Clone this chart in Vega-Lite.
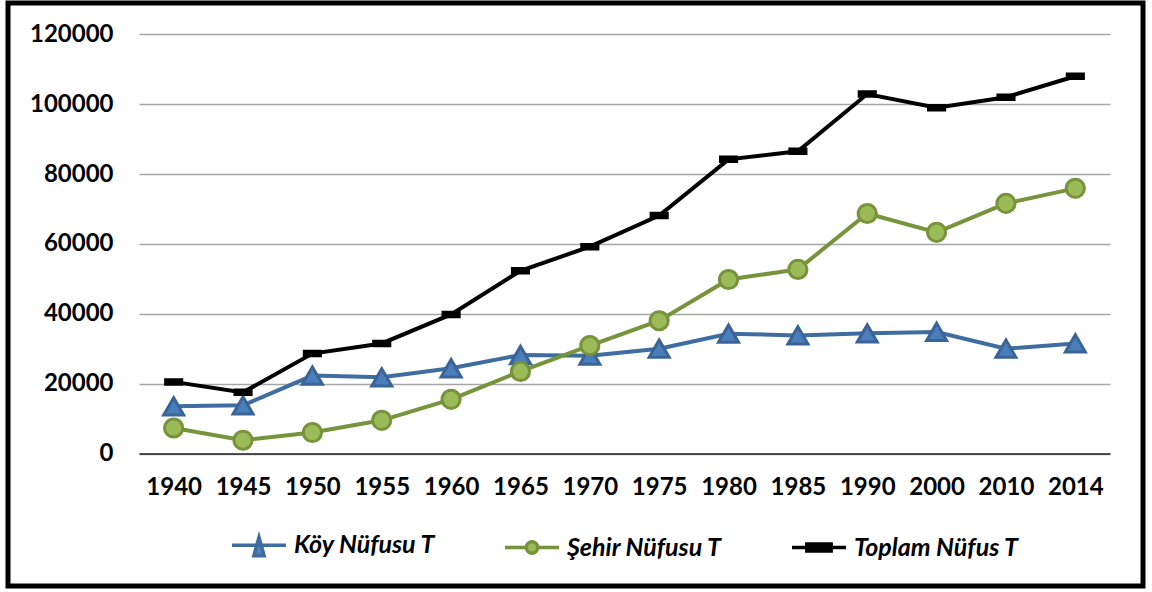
{
  "$schema": "https://vega.github.io/schema/vega-lite/v6.json",
  "autosize": {"type": "none"},
  "width": 1135,
  "height": 583,
  "padding": {"left": 8, "top": 3, "right": 9, "bottom": 6},
  "background": "white",
  "config": {
    "view": {"stroke": "#000000", "strokeWidth": 5},
    "axis": {"labelFont": "Lato", "labelFontSize": 24, "labelFontWeight": "bold", "labelColor": "#000000", "ticks": false, "title": null}
  },
  "data": {"values": [
    {"year": "1940", "series": "Köy Nüfusu T", "value": 13500},
    {"year": "1945", "series": "Köy Nüfusu T", "value": 13800},
    {"year": "1950", "series": "Köy Nüfusu T", "value": 22300},
    {"year": "1955", "series": "Köy Nüfusu T", "value": 21800},
    {"year": "1960", "series": "Köy Nüfusu T", "value": 24400},
    {"year": "1965", "series": "Köy Nüfusu T", "value": 28200},
    {"year": "1970", "series": "Köy Nüfusu T", "value": 28000},
    {"year": "1975", "series": "Köy Nüfusu T", "value": 30000},
    {"year": "1980", "series": "Köy Nüfusu T", "value": 34300},
    {"year": "1985", "series": "Köy Nüfusu T", "value": 33800},
    {"year": "1990", "series": "Köy Nüfusu T", "value": 34400},
    {"year": "2000", "series": "Köy Nüfusu T", "value": 34800},
    {"year": "2010", "series": "Köy Nüfusu T", "value": 30000},
    {"year": "2014", "series": "Köy Nüfusu T", "value": 31500},
    {"year": "1940", "series": "Şehir Nüfusu T", "value": 7300},
    {"year": "1945", "series": "Şehir Nüfusu T", "value": 3800},
    {"year": "1950", "series": "Şehir Nüfusu T", "value": 6000},
    {"year": "1955", "series": "Şehir Nüfusu T", "value": 9500},
    {"year": "1960", "series": "Şehir Nüfusu T", "value": 15500},
    {"year": "1965", "series": "Şehir Nüfusu T", "value": 23500},
    {"year": "1970", "series": "Şehir Nüfusu T", "value": 30900},
    {"year": "1975", "series": "Şehir Nüfusu T", "value": 38000},
    {"year": "1980", "series": "Şehir Nüfusu T", "value": 49800},
    {"year": "1985", "series": "Şehir Nüfusu T", "value": 52700},
    {"year": "1990", "series": "Şehir Nüfusu T", "value": 68700},
    {"year": "2000", "series": "Şehir Nüfusu T", "value": 63300},
    {"year": "2010", "series": "Şehir Nüfusu T", "value": 71600},
    {"year": "2014", "series": "Şehir Nüfusu T", "value": 75900},
    {"year": "1940", "series": "Toplam Nüfus T", "value": 20500},
    {"year": "1945", "series": "Toplam Nüfus T", "value": 17500},
    {"year": "1950", "series": "Toplam Nüfus T", "value": 28600},
    {"year": "1955", "series": "Toplam Nüfus T", "value": 31500},
    {"year": "1960", "series": "Toplam Nüfus T", "value": 39800},
    {"year": "1965", "series": "Toplam Nüfus T", "value": 52300},
    {"year": "1970", "series": "Toplam Nüfus T", "value": 59200},
    {"year": "1975", "series": "Toplam Nüfus T", "value": 68100},
    {"year": "1980", "series": "Toplam Nüfus T", "value": 84200},
    {"year": "1985", "series": "Toplam Nüfus T", "value": 86500},
    {"year": "1990", "series": "Toplam Nüfus T", "value": 102900},
    {"year": "2000", "series": "Toplam Nüfus T", "value": 99000},
    {"year": "2010", "series": "Toplam Nüfus T", "value": 102000},
    {"year": "2014", "series": "Toplam Nüfus T", "value": 108000}
  ]},
  "encoding": {
    "x": {"field": "year", "type": "ordinal",
      "scale": {"type": "point", "range": [131, 1102], "padding": 0.5},
      "axis": {"offset": -132.5, "labelPadding": 22, "labelAngle": 0, "domainColor": "#222222", "domainWidth": 1.5, "grid": false}},
    "y": {"field": "value", "type": "quantitative",
      "scale": {"domain": [0, 120000], "range": [450.5, 31.3], "nice": false},
      "axis": {"offset": -131, "labelPadding": 26, "values": [0, 20000, 40000, 60000, 80000, 100000, 120000], "format": "d", "domain": false, "grid": true, "gridColor": "#A6A6A6", "gridWidth": 1.5}}
  },
  "resolve": {"scale": {"shape": "independent", "fill": "independent", "stroke": "independent"}},
  "layer": [
    {
      "mark": {"type": "line", "strokeWidth": 4},
      "encoding": {
        "color": {"field": "series", "type": "nominal", "legend": null,
          "scale": {"domain": ["Köy Nüfusu T", "Şehir Nüfusu T", "Toplam Nüfus T"], "range": ["#3F6CA1", "#77933C", "#000000"]}}
      }
    },
    {
      "mark": {"type": "point", "filled": true, "strokeWidth": 3, "opacity": 1},
      "encoding": {
        "shape": {"field": "series", "type": "nominal", "legend": null,
          "scale": {"domain": ["Köy Nüfusu T", "Şehir Nüfusu T", "Toplam Nüfus T"], "range": ["triangle-up", "circle", "M-1,-0.28H1V0.28H-1Z"]}},
        "size": {"field": "series", "type": "nominal", "legend": null,
          "scale": {"domain": ["Köy Nüfusu T", "Şehir Nüfusu T", "Toplam Nüfus T"], "range": [400, 260, 420]}},
        "fill": {"field": "series", "type": "nominal", "legend": null,
          "scale": {"domain": ["Köy Nüfusu T", "Şehir Nüfusu T", "Toplam Nüfus T"], "range": ["#4A7EBB", "#9BBB59", "#000000"]}},
        "stroke": {"field": "series", "type": "nominal", "legend": null,
          "scale": {"domain": ["Köy Nüfusu T", "Şehir Nüfusu T", "Toplam Nüfus T"], "range": ["#3A6496", "#77933C", "#000000"]}}
      }
    },
    {
      "mark": {"type": "point", "filled": true, "opacity": 0},
      "encoding": {
        "shape": {"field": "series", "type": "nominal",
          "scale": {"domain": ["Köy Nüfusu T", "Şehir Nüfusu T", "Toplam Nüfus T"],
            "range": ["M-1,0L1,0M0,-0.3L0.19,0.38L-0.19,0.38Z", "M-1,0L-0.21,0M0.21,0L1,0M0.21,0A0.21,0.21,0,1,1,-0.21,0A0.21,0.21,0,1,1,0.21,0Z", "M-1,0L1,0M-0.45,-0.13L0.45,-0.13L0.45,0.13L-0.45,0.13Z"]},
          "legend": {"orient": "none", "legendX": 222, "legendY": 513, "direction": "horizontal", "title": null,
            "symbolSize": 2916, "symbolStrokeWidth": 3.5, "symbolOpacity": 1, "labelFont": "Lato", "labelFontSize": 25, "labelFontStyle": "italic", "labelFontWeight": "bold",
            "labelColor": "#000000", "labelOffset": 6, "labelLimit": 400, "columnPadding": 62, "padding": 0}},
        "fill": {"field": "series", "type": "nominal",
          "scale": {"domain": ["Köy Nüfusu T", "Şehir Nüfusu T", "Toplam Nüfus T"], "range": ["#4F81BD", "#9BBB59", "#000000"]}},
        "stroke": {"field": "series", "type": "nominal",
          "scale": {"domain": ["Köy Nüfusu T", "Şehir Nüfusu T", "Toplam Nüfus T"], "range": ["#3F6CA1", "#77933C", "#000000"]}}
      }
    }
  ]
}
